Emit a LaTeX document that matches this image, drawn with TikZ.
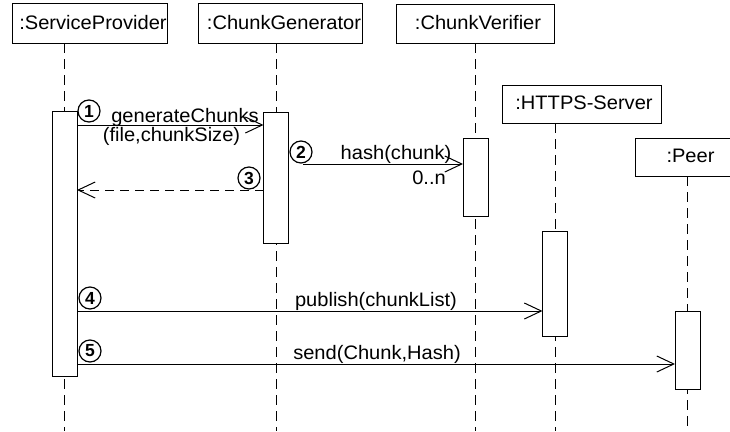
\documentclass[tikz,border=0pt]{standalone}
\usepackage{fontspec}
\setmainfont{Liberation Sans}
\newfontfamily\widesans[FakeStretch=1.03]{Liberation Sans}
\usetikzlibrary{arrows.meta}
\tikzset{
  x=1pt, y=-1pt,
  every node/.style={inner sep=0pt, outer sep=0pt},
  objbox/.style={draw, line width=1pt, fill=white, anchor=north west},
  objlabel/.style={anchor=base, font=\widesans\fontsize{19.5}{22}\selectfont},
  msglabel/.style={anchor=base, font=\widesans\fontsize{19.5}{22}\selectfont},
  actbar/.style={draw, line width=1pt, fill=white, minimum width=25pt, anchor=north},
  lifeline/.style={line width=1pt, dash pattern=on 10pt off 6pt},
  msg/.style={line width=1pt, -{Straight Barb[length=17pt, width=16pt, line width=1pt]}},
  reply/.style={msg, dash pattern=on 9pt off 6pt},
  seqnum/.style={circle, draw, line width=1.2pt, minimum size=22pt, font=\bfseries\fontsize{17.5}{19}\selectfont}
}
\begin{document}
\begin{tikzpicture}
\useasboundingbox (0,0) rectangle (730,431);
\clip (0,0) rectangle (730,431);

% object boxes
\node[objbox, minimum width=155pt, minimum height=40pt] (sp) at (12,3) {};
\node[objbox, minimum width=164pt, minimum height=40pt] (cg) at (198,3) {};
\node[objbox, minimum width=158pt, minimum height=39pt] (cv) at (396,4) {};
\node[objbox, minimum width=159pt, minimum height=38pt] (hs) at (502,85) {};
\node[objbox, minimum width=110pt, minimum height=38pt] (pe) at (635,138) {};

\node[objlabel] (sp-t) at (93,29) {:ServiceProvider};
\node[objlabel] (cg-t) at (284,29) {:ChunkGenerator};
\node[objlabel] (cv-t) at (478,29) {:ChunkVerifier};
\node[objlabel] (hs-t) at (584,109) {:HTTPS-Server};
\node[objlabel] (pe-t) at (690.5,162) {:Peer};

% lifeline positions and bottom edge
\coordinate (xsp) at (64.5,0);
\coordinate (xcg) at (276,0);
\coordinate (xcv) at (475.5,0);
\coordinate (xhs) at (555,0);
\coordinate (xpe) at (687.5,0);
\coordinate (bottom) at (0,431);

% lifelines
\draw[lifeline] (xsp |- sp.south) -- (xsp |- bottom);
\draw[lifeline] (xcg |- cg.south) -- (xcg |- bottom);
\draw[lifeline] (xcv |- cv.south) -- (xcv |- bottom);
\draw[lifeline] (xhs |- hs.south) -- (xhs |- bottom);
\draw[lifeline] (xpe |- pe.south) -- (xpe |- bottom);

% activation bars
\node[actbar, minimum height=265pt] (spbar) at (64.5,111) {};
\node[actbar, minimum height=131pt] (cgbar) at (276,112) {};
\node[actbar, minimum height=78pt] (cvbar) at (475.5,138) {};
\node[actbar, minimum height=105pt] (hsbar) at (555,231) {};
\node[actbar, minimum height=78pt] (pebar) at (687.5,311) {};

% message levels
\coordinate (m1) at (0,125);
\coordinate (m2) at (0,164);
\coordinate (m3) at (0,190);
\coordinate (m4) at (0,311);
\coordinate (m5) at (0,364);
\coordinate (m2start) at (303,164);

% messages
\draw[msg] (spbar.east |- m1) -- (cgbar.west |- m1);
\draw[msg] (m2start) -- (cvbar.west |- m2);
\draw[reply] (cgbar.west |- m3) -- (spbar.east |- m3);
\draw[msg] (spbar.east |- m4) -- (hsbar.west |- m4);
\draw[msg] (spbar.east |- m5) -- (pebar.west |- m5);

% message labels
\node[msglabel] (l1a) at (185,122) {generateChunks};
\node[msglabel] (l1b) at (171.5,141) {(file,chunkSize)};
\node[msglabel] (l2a) at (396,159) {hash(chunk)};
\node[msglabel] (l2b) at (429,184) {0..n};
\node[msglabel] (l4) at (376,306) {publish(chunkList)};
\node[msglabel] (l5) at (377,359) {send(Chunk,Hash)};

% sequence numbers
\node[seqnum] (n1) at (89,111) {1};
\node[seqnum] (n2) at (301,152) {2};
\node[seqnum] (n3) at (249,178) {3};
\node[seqnum] (n4) at (90,298) {4};
\node[seqnum] (n5) at (90,351) {5};
\end{tikzpicture}
\end{document}
